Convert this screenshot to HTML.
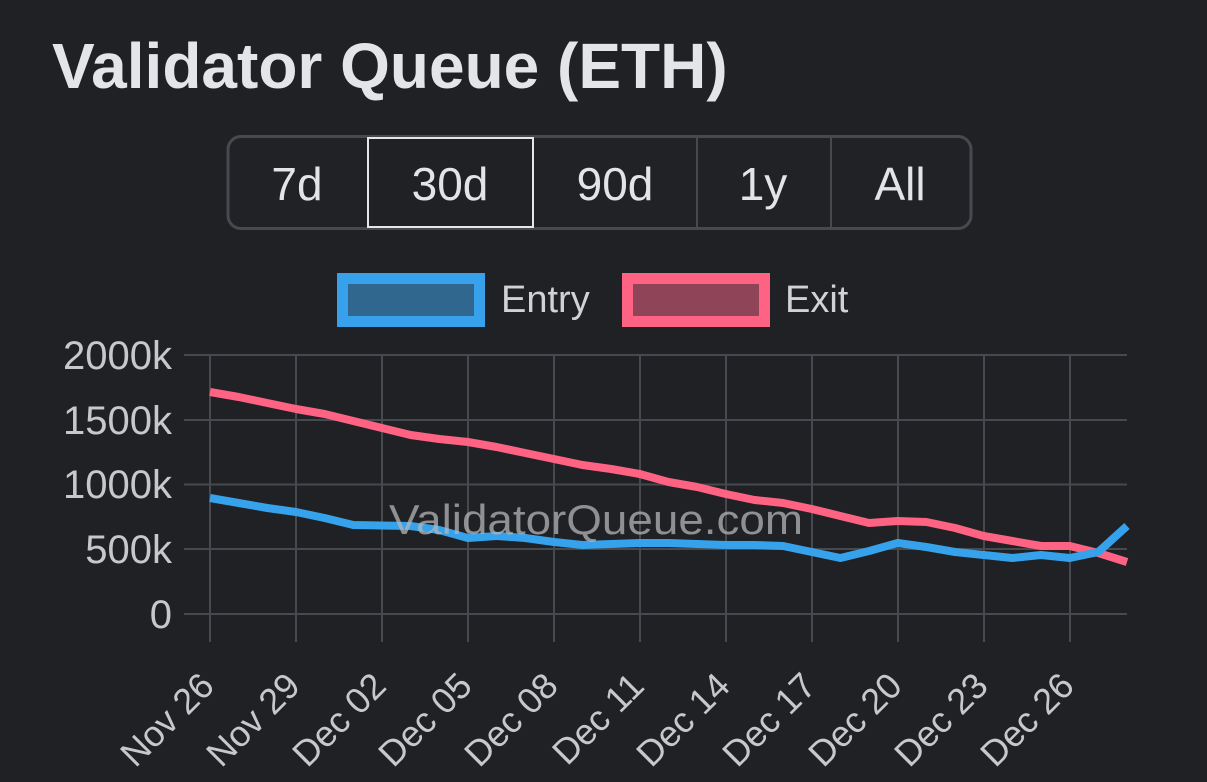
<!DOCTYPE html>
<html>
<head>
<meta charset="utf-8">
<style>
  html,body{margin:0;padding:0;background:#1f2125;}
  body{width:1207px;height:782px;overflow:hidden;}
  svg{display:block;}
</style>
</head>
<body>
<svg width="1207" height="782" viewBox="0 0 1207 782" xmlns="http://www.w3.org/2000/svg" font-family="'Liberation Sans', sans-serif">
  <rect x="0" y="0" width="1207" height="782" fill="#1f2125"/>

  <!-- Title -->
  <text x="52" y="88" font-size="64" font-weight="bold" fill="#e3e5e8">Validator Queue (ETH)</text>

  <!-- Range buttons -->
  <rect x="228" y="136.5" width="743" height="92" rx="13" ry="13" fill="#202226" stroke="#46494e" stroke-width="3"/>
  <line x1="697" y1="138" x2="697" y2="227" stroke="#46494e" stroke-width="2"/>
  <line x1="831" y1="138" x2="831" y2="227" stroke="#46494e" stroke-width="2"/>
  <rect x="368" y="138" width="165" height="89" fill="#1f2125" stroke="#e6e6e6" stroke-width="2"/>
  <g font-size="46" fill="#e2e4e6" text-anchor="middle">
    <text x="297" y="200">7d</text>
    <text x="450" y="200">30d</text>
    <text x="615" y="200">90d</text>
    <text x="763" y="200">1y</text>
    <text x="900" y="200">All</text>
  </g>

  <!-- Legend -->
  <rect x="342.5" y="278.5" width="137" height="43" fill="#2f678f" stroke="#37a2eb" stroke-width="11"/>
  <text x="501" y="312" font-size="38" fill="#d0d2d5">Entry</text>
  <rect x="627.5" y="278.5" width="137" height="43" fill="#8f4557" stroke="#ff6384" stroke-width="11"/>
  <text x="785" y="312" font-size="38" fill="#d0d2d5">Exit</text>

  <!-- Grid -->
  <g stroke="#46494d" stroke-width="2">
    <line x1="184" y1="355" x2="1127" y2="355"/>
    <line x1="184" y1="420" x2="1127" y2="420"/>
    <line x1="184" y1="484.5" x2="1127" y2="484.5"/>
    <line x1="184" y1="549" x2="1127" y2="549"/>
    <line x1="184" y1="614" x2="1127" y2="614"/>
    <line x1="210" y1="355" x2="210" y2="642"/>
    <line x1="296" y1="355" x2="296" y2="642"/>
    <line x1="382" y1="355" x2="382" y2="642"/>
    <line x1="468" y1="355" x2="468" y2="642"/>
    <line x1="554" y1="355" x2="554" y2="642"/>
    <line x1="640" y1="355" x2="640" y2="642"/>
    <line x1="726" y1="355" x2="726" y2="642"/>
    <line x1="812" y1="355" x2="812" y2="642"/>
    <line x1="898" y1="355" x2="898" y2="642"/>
    <line x1="984" y1="355" x2="984" y2="642"/>
    <line x1="1070" y1="355" x2="1070" y2="642"/>
  </g>

  <!-- Y labels -->
  <g font-size="40" fill="#c6c8cb" text-anchor="end">
    <text x="172" y="369">2000k</text>
    <text x="172" y="434">1500k</text>
    <text x="172" y="498">1000k</text>
    <text x="172" y="563">500k</text>
    <text x="172" y="628">0</text>
  </g>

  <!-- X labels -->
  <g font-size="36" fill="#c6c8cb" text-anchor="end">
    <text transform="translate(216,688) rotate(-45)">Nov 26</text>
    <text transform="translate(302,688) rotate(-45)">Nov 29</text>
    <text transform="translate(388,688) rotate(-45)">Dec 02</text>
    <text transform="translate(474,688) rotate(-45)">Dec 05</text>
    <text transform="translate(560,688) rotate(-45)">Dec 08</text>
    <text transform="translate(646,688) rotate(-45)">Dec 11</text>
    <text transform="translate(732,688) rotate(-45)">Dec 14</text>
    <text transform="translate(818,688) rotate(-45)">Dec 17</text>
    <text transform="translate(904,688) rotate(-45)">Dec 20</text>
    <text transform="translate(990,688) rotate(-45)">Dec 23</text>
    <text transform="translate(1076,688) rotate(-45)">Dec 26</text>
  </g>

  <!-- Exit series -->
  <polyline fill="none" stroke="#ff6384" stroke-width="8" stroke-linejoin="round" stroke-linecap="butt"
    points="210,392 238.7,397 267.3,403 296,409 324.6,414 353.3,421 381.9,428 410.6,435 439.2,439 467.9,442 496.6,447 525.2,453 553.9,459 582.5,465 611.2,469 639.8,474 668.5,482 697.2,487 725.8,494 754.5,500 783.1,503 811.8,509 840.4,516 869.1,523 897.7,521 926.4,522 955.1,528 983.7,536 1012.4,541 1041,546 1069.7,546 1098.3,553 1127,562"/>

  <!-- Entry series -->
  <polyline fill="none" stroke="#36a2eb" stroke-width="8" stroke-linejoin="round" stroke-linecap="butt"
    points="210,498 238.7,503 267.3,508 296,512 324.6,518 353.3,525 381.9,525.5 410.6,526 439.2,530 467.9,538 496.6,536 525.2,538 553.9,542 582.5,545 611.2,544 639.8,543 668.5,543 697.2,544 725.8,545 754.5,545 783.1,546 811.8,552 840.4,558 869.1,551 897.7,543 926.4,547 955.1,552 983.7,555 1012.4,558 1041,555 1069.7,558 1098.3,552 1127,526"/>

  <!-- Watermark -->
  <text x="389" y="534" font-size="42" fill="#b4b6b9" fill-opacity="0.75" textLength="414" lengthAdjust="spacingAndGlyphs">ValidatorQueue.com</text>
</svg>
</body>
</html>
